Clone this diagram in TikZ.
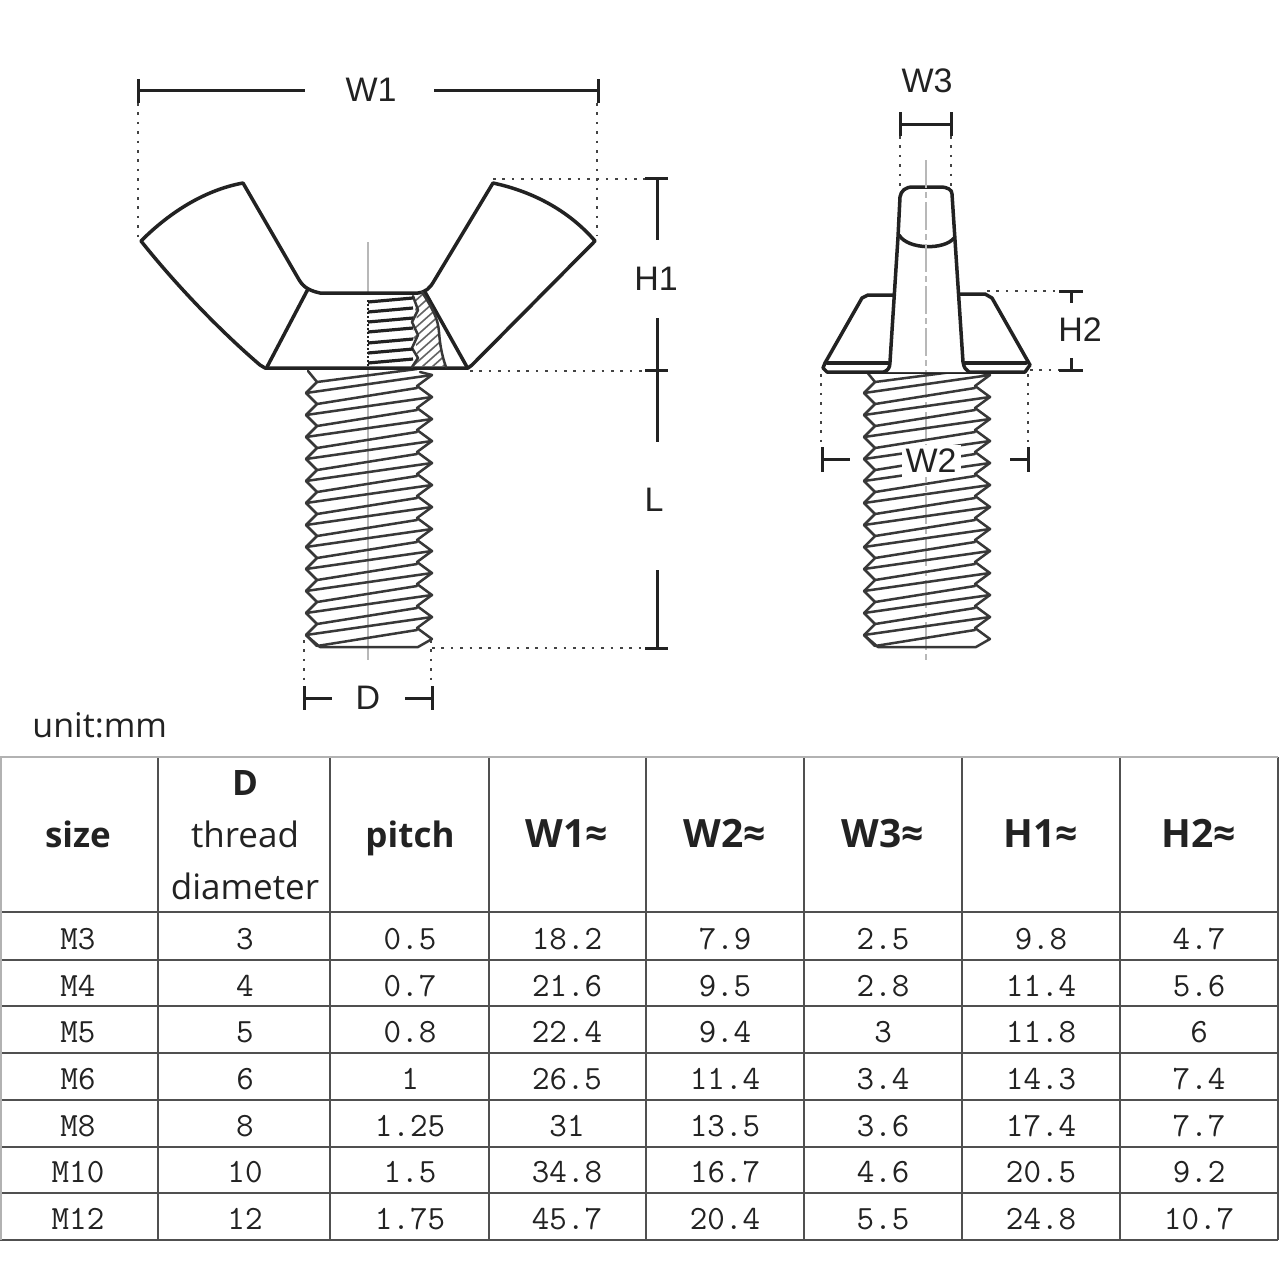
\documentclass[tikz,border=0pt]{standalone}
\usepackage{fontspec}
\setmainfont{Open Sans}
\newfontfamily\dimfont{Liberation Sans}
\setmonofont{Latin Modern Mono}
\definecolor{ink}{HTML}{222222}
\definecolor{rule}{HTML}{505050}
\tikzset{
  part/.style={draw=ink,line width=1.75pt,line join=round,line cap=round},
  thin part/.style={draw=ink!90,line width=1.25pt,line join=round,line cap=round},
  dimline/.style={draw=ink,line width=1.5pt},
  dotline/.style={draw=ink!85,line width=1.35pt,dash pattern=on 1.3pt off 3.4pt},
  centerline/.style={draw=black!28,line width=0.8pt},
  dimlabel/.style={font=\dimfont\fontsize{17}{20}\selectfont,text=ink,inner sep=1pt},
  head/.style={font=\bfseries\fontsize{17.5}{20}\selectfont,text=ink,inner sep=0pt,anchor=base},
  headw/.style={font=\bfseries\fontsize{19.5}{20}\selectfont,text=ink,inner sep=0pt,anchor=base},
  headp/.style={font=\fontsize{17.5}{20}\selectfont,text=ink,inner sep=0pt,anchor=base},
  cell/.style={font=\ttfamily\fontsize{17}{20}\selectfont,text=ink,inner sep=0pt},
  grid/.style={draw=rule,line width=1.1pt},
}
\newcommand{\threadshaft}{%
  \draw[thin part] (308,371) -- (317,382)
    \foreach \i in {0,...,11}{ -- (306,393+22*\i) -- (317,404+22*\i)};
  \draw[thin part] (420,372) -- (432,375)
    \foreach \i in {0,...,11}{ -- (417,386+22*\i) -- (432,397+22*\i)};
  \draw[thin part] (317,382) -- (417,369);
  \foreach \i in {0,...,11}{
    \draw[thin part] (306,393+22*\i) -- (432,375+22*\i);
    \draw[thin part] (317,404+22*\i) -- (417,388+22*\i);
  }
  \draw[thin part] (306,635) -- (320,647) -- (418,647) -- (432,639);
}
\begin{document}
\begin{tikzpicture}[x=0.5pt,y=-0.5pt]
\useasboundingbox (0,0) rectangle (1280,1280);
\fill[white] (0,0) rectangle (1280,1280);

% centre lines
\draw[centerline] (368,242) -- (368,660);
\draw[centerline,dash pattern=on 14pt off 2pt on 3pt off 2pt] (926,160) -- (926,662);

% threads
\threadshaft
\begin{scope}[xshift=279pt]\threadshaft\end{scope}

% wing nut front view
\draw[part,fill=white] (141,241) .. controls (170,212) and (205,190) .. (243,183)
  -- (298,278) .. controls (302,285) and (306,290) .. (320,293)
  -- (418,293) .. controls (426,292) and (430,288) .. (434,281)
  -- (493,183) .. controls (535,192) and (570,212) .. (595,241)
  -- (472,365) -- (468,368) -- (265,368) -- (260,365)
  .. controls (225,335) and (180,290) .. (141,241) -- cycle;
\draw[part] (308,289) -- (267,367);
\draw[part] (425,292) -- (467,367);
\begin{scope}
  \clip (413,296) -- (422,292) .. controls (432,308) and (438,318) .. (439,332)
     .. controls (440,345) and (442,356) .. (446,367) -- (412,367)
     -- (418,350) -- (412,335) -- (417,320) -- cycle;
  \foreach \k in {0,...,11}{
    \draw[draw=ink!70,line width=0.8pt] (405,310+\k*9) -- (450,270+\k*9);
  }
\end{scope}
\draw[thin part] (422,292) .. controls (432,308) and (438,318) .. (439,332)
     .. controls (440,345) and (442,356) .. (446,367);
\draw[thin part] (413,296) -- (418,310) -- (412,322) -- (418,335) -- (412,348) -- (418,358) -- (412,367);
\foreach \y in {300,310,320,330,341,351,361}{
  \draw[draw=ink,line width=1.6pt] (368,\y+2) -- (413,\y-2);
}
\draw[draw=ink,line width=1.2pt,dash pattern=on 1.2pt off 0.8pt] (368,300) -- (368,366);

% wing nut side view
\draw[part,fill=white] (895,295) -- (868,295) -- (862,298) -- (825,363) -- (823,368) -- (827,372)
  -- (1025,372) -- (1030,365) -- (992,298) -- (985,294) -- (958,294);
\draw[part] (827,363) -- (888,363);
\draw[part] (965,363) -- (1026,363);
\draw[part,fill=white] (884,372) .. controls (888,370) and (890,368) .. (890,362)
  -- (898,237) -- (900,197) .. controls (901,191) and (905,187) .. (913,187)
  -- (940,187) .. controls (948,187) and (952,190) .. (952,194)
  -- (955,240) -- (963,362) .. controls (964,368) and (966,370) .. (969,372);
\draw[part] (899,235) .. controls (908,250) and (945,250) .. (954,238);
\draw[centerline,dash pattern=on 14pt off 2pt on 3pt off 2pt] (926,160) -- (926,372);

% dimension W1
\node[dimlabel] (w1) at (371,90) {W1};
\coordinate (w1l) at (138,90);
\coordinate (w1r) at (598,90);
\draw[dimline] (w1l) -- (305,90);
\draw[dimline] (434,90) -- (w1r);
\draw[dimline] (138,79) -- (138,103);
\draw[dimline] (598,79) -- (598,103);
\draw[dotline] (138,103) -- (138,238);
\draw[dotline] (597,103) -- (597,236);

% dimensions H1 and L
\node[dimlabel] (h1) at (656,279) {H1};
\node[dimlabel] (l) at (654,500) {L};
\draw[dimline] (645,178) -- (668,178);
\draw[dimline] (657,178) -- (657,240);
\draw[dimline] (657,318) -- (657,442);
\draw[dimline] (645,370) -- (668,370);
\draw[dimline] (657,570) -- (657,648);
\draw[dimline] (645,648) -- (668,648);
\draw[dotline] (493,179) -- (645,179);
\draw[dotline] (470,371) -- (645,371);
\draw[dotline] (432,648) -- (645,648);

% dimension D
\node[dimlabel] (d) at (368,698) {D};
\draw[dimline] (304,686) -- (304,710);
\draw[dimline] (432,686) -- (432,710);
\draw[dimline] (304,698) -- (332,698);
\draw[dimline] (405,698) -- (432,698);
\draw[dotline] (304,640) -- (304,686);
\draw[dotline] (431,640) -- (431,686);

% dimension W3
\node[dimlabel] (w3) at (927,81) {W3};
\draw[dimline] (900,112) -- (900,136);
\draw[dimline] (951,112) -- (951,136);
\draw[dimline] (900,124) -- (951,124);
\draw[dotline] (900,136) -- (900,188);
\draw[dotline] (951,136) -- (951,188);

% dimension H2
\node[dimlabel] (h2) at (1080,330) {H2};
\draw[dimline] (1059,291) -- (1083,291);
\draw[dimline] (1071,291) -- (1071,303);
\draw[dimline] (1071,358) -- (1071,370);
\draw[dimline] (1059,370) -- (1083,370);
\draw[dotline] (987,291) -- (1059,291);
\draw[dotline] (1030,370) -- (1059,370);

% dimension W2
\node[dimlabel,fill=white,inner sep=2pt] (w2) at (931,461) {W2};
\draw[dimline] (822,447) -- (822,472);
\draw[dimline] (1028,447) -- (1028,472);
\draw[dimline] (822,459) -- (850,459);
\draw[dimline] (1010,459) -- (1028,459);
\draw[dotline] (821,374) -- (821,446);
\draw[dotline] (1028,374) -- (1028,446);

% unit
\node[font=\fontsize{17}{20}\selectfont,text=ink,inner sep=0pt,anchor=west] (unit) at (32,725) {unit:mm};

% table grid
\foreach \x in {158,330,489,646,804,962,1120,1278}{ \draw[grid] (\x,757) -- (\x,1240); }
\foreach \y in {912,960,1006,1053,1100,1147,1193,1240}{ \draw[grid] (0,\y) -- (1278,\y); }
\draw[draw=black!30,line width=1pt] (0,757) -- (1278,757);
\draw[draw=black!30,line width=1pt] (0.5,757) -- (0.5,1240);

% table header
\node[head] (hsize) at (78,847) {size};
\node[head] (hd) at (245,795) {D};
\node[headp] (hthread) at (245,847) {thread};
\node[headp] (hdiam) at (245,899) {diameter};
\node[head] (hpitch) at (410,847) {pitch};
\node[headw] (hw1) at (567,847) {W1≈};
\node[headw] (hw2) at (725,847) {W2≈};
\node[headw] (hw3) at (883,847) {W3≈};
\node[headw] (hh1) at (1041,847) {H1≈};
\node[headw] (hh2) at (1199,847) {H2≈};

% table body
\foreach \y/\a/\b/\c/\d/\e/\f/\g/\h in {
  939/M3/3/0.5/18.2/7.9/2.5/9.8/4.7,
  986/M4/4/0.7/21.6/9.5/2.8/11.4/5.6,
  1032/M5/5/0.8/22.4/9.4/3/11.8/6,
  1079/M6/6/1/26.5/11.4/3.4/14.3/7.4,
  1126/M8/8/1.25/31/13.5/3.6/17.4/7.7,
  1172/M10/10/1.5/34.8/16.7/4.6/20.5/9.2,
  1219/M12/12/1.75/45.7/20.4/5.5/24.8/10.7}{
  \node[cell] (a\y) at (78,\y) {\a};
  \node[cell] (b\y) at (245,\y) {\b};
  \node[cell] (c\y) at (410,\y) {\c};
  \node[cell] (d\y) at (567,\y) {\d};
  \node[cell] (e\y) at (725,\y) {\e};
  \node[cell] (f\y) at (883,\y) {\f};
  \node[cell] (g\y) at (1041,\y) {\g};
  \node[cell] (h\y) at (1199,\y) {\h};
}
\end{tikzpicture}
\end{document}
